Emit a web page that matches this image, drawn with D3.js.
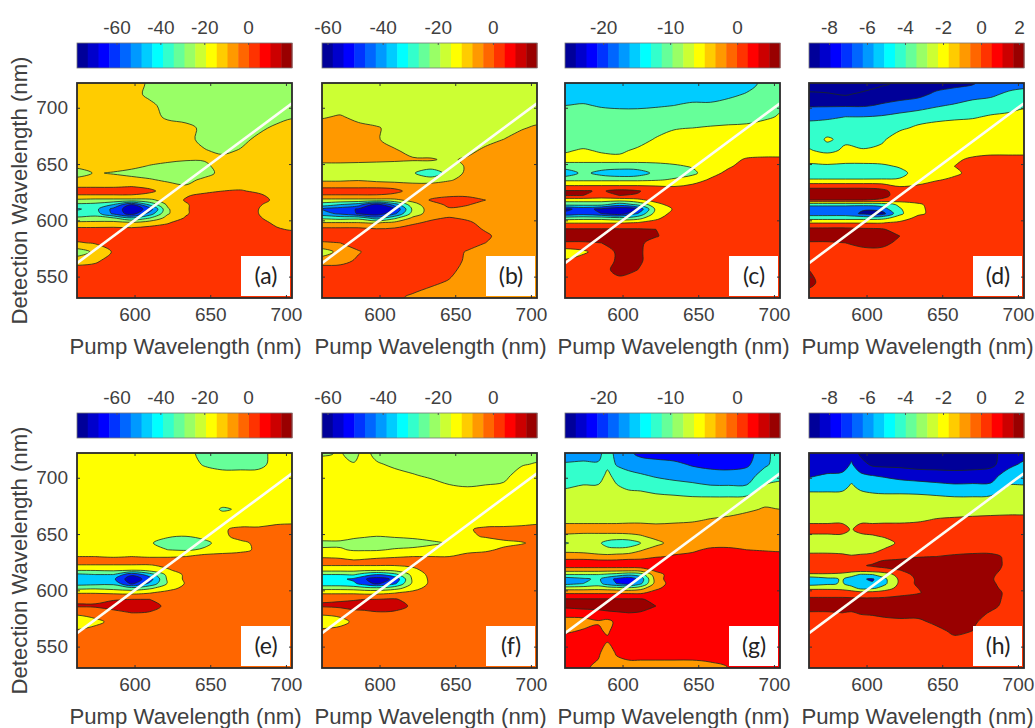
<!DOCTYPE html>
<html>
<head>
<meta charset="utf-8">
<script src="https://cdn.jsdelivr.net/npm/d3@7"></script>
<style>
body{margin:0;background:#fff}
svg{display:block}
text{font-family:'Liberation Sans',Arial,sans-serif;fill:#404040}
</style>
</head>
<body>
<svg id="chart" width="1035" height="728"></svg>
<script>
// grid axes, rows run top to bottom. f, g and h need a finer pump grid round the 590 nm spike
var pumpCoarse = [562,574,586,598,610,622,634,646,658,670,682,694,704]
var pumpF = [562,574,583,590,598,610,622,634,646,658,670,682,694,704]
var pumpFine = [562,574,584,590,596,604,612,622,634,646,658,670,682,694,704]
var detection = [722,712,702,692,682,672,662,654,648,642,636,630,626,622,618,614,610,606,602,598,592,586,580,572,564,556,545,531]

// values are in contour steps: 10 units = one filled band of that panel
var gridA = [
[55,55,55,53,49,45,45,45,45,45,45,45,45],
[55,55,55,53,48,45,45,45,45,45,45,45,45],
[55,55,55,55,52,47,45,45,45,45,45,45,45],
[55,55,55,55,54,48,45,45,45,45,45,45,49],
[55,55,55,55,55,55,54,47,45,45,47,53,55],
[55,55,55,55,55,55,54,46,45,46,53,55,55],
[55,55,55,55,55,55,55,51,47,51,55,55,55],
[55,55,55,55,55,53,51,51,54,55,55,55,55],
[52,53,55,53,49,46,45,47,55,55,55,55,55],
[45,51,49,46,45,45,45,46,53,55,55,55,55],
[53,55,55,54,51,48,47,52,55,55,55,55,55],
[59,59,59,60,58,54,51,55,56,57,55,55,55],
[65,65,65,65,62,56,55,57,60,61,58,55,55],
[59,59,59,59,57,55,59,63,65,65,62,56,55],
[48,47,47,47,48,54,61,65,65,65,63,58,55],
[38,37,30,10,32,52,59,65,65,65,61,56,55],
[29,33,17,3,14,49,59,65,65,65,60,55,55],
[33,35,18,5,24,49,59,65,65,65,60,55,55],
[42,44,41,31,40,54,61,65,65,65,61,56,55],
[52,52,53,51,55,59,65,65,65,65,63,58,56],
[63,63,63,63,64,65,65,65,65,65,65,61,59],
[65,65,65,65,65,65,65,65,65,65,65,65,65],
[59,61,65,65,65,65,65,65,65,65,65,65,65],
[45,52,61,65,65,65,65,65,65,65,65,65,65],
[55,58,65,65,65,65,65,65,65,65,65,65,65],
[65,65,65,65,65,65,65,65,65,65,65,65,65],
[65,65,65,65,65,65,65,65,65,65,65,65,65],
[65,65,65,65,65,65,65,65,65,65,65,65,65]]

var gridB = [
[45,45,45,45,45,45,45,45,45,45,45,45,45],
[45,45,45,45,45,45,45,45,45,45,45,45,45],
[45,45,45,45,45,45,45,45,45,45,45,45,45],
[49,51,47,45,45,45,45,45,45,45,45,45,45],
[55,55,53,51,47,45,45,45,45,45,45,49,52],
[55,55,55,51,46,45,45,45,45,45,50,55,55],
[55,55,55,55,51,47,45,45,46,53,55,55,55],
[55,55,54,53,52,51,51,48,52,55,55,55,55],
[45,45,45,45,45,45,45,46,51,55,55,55,55],
[45,45,45,45,45,41,33,44,52,55,55,55,55],
[48,48,49,47,46,45,45,49,53,55,55,55,55],
[58,58,58,58,57,55,55,55,55,55,55,55,55],
[65,65,65,65,63,56,55,55,55,55,55,55,55],
[59,59,59,59,57,55,57,59,59,59,57,55,55],
[47,47,47,47,48,53,61,63,63,60,55,55,55],
[35,30,25,5,25,46,56,62,61,55,55,55,55],
[20,15,9,2,10,42,55,59,56,55,55,55,55],
[24,18,9,3,18,44,55,55,55,55,55,55,55],
[38,36,37,25,38,52,58,61,58,55,55,55,55],
[50,50,50,49,52,58,62,65,62,56,55,55,55],
[63,63,63,61,62,65,65,65,64,59,55,55,55],
[65,65,65,65,65,65,65,65,65,62,56,55,55],
[59,60,65,65,65,65,65,65,65,60,55,55,55],
[45,53,59,65,65,65,65,65,59,55,55,55,55],
[55,56,62,65,65,65,65,65,58,55,55,55,55],
[65,65,65,65,65,65,65,63,56,55,55,55,55],
[65,65,65,65,65,65,62,59,55,55,55,55,55],
[65,65,65,65,62,58,55,55,55,55,55,55,55]]

var gridC = [
[25,25,25,25,25,25,25,25,25,25,25,33,35],
[25,25,25,25,25,25,25,25,25,27,31,35,35],
[30,31,29,28,28,29,30,32,32,35,35,35,38],
[35,35,35,35,35,35,35,35,35,35,35,38,41],
[35,35,35,35,35,35,39,40,41,42,43,45,45],
[35,35,35,35,35,41,45,45,45,45,45,45,45],
[39,41,39,38,42,45,45,45,45,45,45,45,45],
[43,43,43,43,43,43,45,45,45,47,51,52,52],
[36,36,36,36,36,37,38,41,46,49,53,55,55],
[22,33,26,22,24,33,36,37,47,52,55,55,55],
[38,38,38,38,38,39,41,46,51,55,55,55,55],
[52,52,52,52,52,51,50,52,55,55,55,55,55],
[61,61,59,63,61,55,55,55,55,55,55,55,55],
[60,60,57,60,59,55,55,55,55,55,55,55,55],
[44,44,44,44,47,54,55,55,55,55,55,55,55],
[33,33,33,24,32,46,55,55,55,55,55,55,55],
[8,13,8,3,10,42,51,55,55,55,55,55,55],
[12,15,10,4,20,44,53,55,55,55,55,55,55],
[35,36,36,33,36,48,55,55,55,55,55,55,55],
[49,49,49,49,50,53,55,55,55,55,55,55,55],
[61,61,61,61,61,60,55,55,55,55,55,55,55],
[65,65,65,65,65,61,55,55,55,55,55,55,55],
[59,59,60,65,63,55,55,55,55,55,55,55,55],
[45,48,55,62,62,55,55,55,55,55,55,55,55],
[51,55,55,62,62,55,55,55,55,55,55,55,55],
[55,55,55,65,60,55,55,55,55,55,55,55,55],
[55,55,55,55,55,55,55,55,55,55,55,55,55],
[55,55,55,55,55,55,55,55,55,55,55,55,55]]

var gridD = [
[3,3,3,4,8,12,15,15,17,19,25,25,25],
[12,11,9,12,15,15,17,22,24,25,28,32,35],
[19,19,19,19,21,24,26,29,31,35,35,35,38],
[27,28,30,30,31,33,35,36,38,39,41,43,45],
[35,36,35,35,35,38,42,45,45,45,45,45,45],
[35,41,38,35,38,46,45,45,45,45,45,45,45],
[41,37,42,41,43,45,45,45,45,45,45,45,45],
[44,48,44,44,44,44,45,45,48,52,55,55,55],
[37,37,37,37,38,41,45,46,50,55,55,55,55],
[32,32,32,32,33,37,44,47,48,53,55,55,55],
[41,41,41,41,41,41,44,49,52,55,55,55,55],
[57,57,57,57,56,50,52,55,55,55,55,55,55],
[65,65,65,65,63,55,55,55,55,55,55,55,55],
[65,65,65,65,64,55,55,55,55,55,55,55,55],
[60,60,60,60,58,55,55,55,55,55,55,55,55],
[33,33,33,33,34,42,48,55,55,55,55,55,55],
[23,23,23,21,25,39,48,53,55,55,55,55,55],
[25,25,25,18,15,38,48,53,55,55,55,55,55],
[36,36,36,36,37,44,53,55,55,55,55,55,55],
[49,49,49,49,49,52,55,55,55,55,55,55,55],
[63,63,63,62,61,56,55,55,55,55,55,55,55],
[65,65,65,65,65,60,55,55,55,55,55,55,55],
[59,59,60,65,65,56,55,55,55,55,55,55,55],
[55,55,55,55,55,55,55,55,55,55,55,55,55],
[55,55,55,55,55,55,55,55,55,55,55,55,55],
[60,55,55,55,55,55,55,55,55,55,55,55,55],
[63,55,55,55,55,55,55,55,55,55,55,55,55],
[55,55,55,55,55,55,55,55,55,55,55,55,55]]

var gridE = [
[45,45,45,45,45,45,45,35,35,35,35,45,45],
[45,45,45,45,45,45,45,39,35,35,36,45,45],
[45,45,45,45,45,45,45,45,45,45,45,45,45],
[45,45,45,45,45,45,45,45,45,45,45,45,45],
[45,45,45,45,45,45,45,45,45,45,45,45,45],
[45,45,45,45,45,45,45,45,39,41,45,45,45],
[45,45,45,45,45,45,45,45,45,45,45,46,47],
[45,45,45,45,45,45,45,45,49,52,52,55,55],
[45,45,45,45,45,41,40,42,48,53,55,55,55],
[45,45,45,45,41,36,35,38,43,48,52,54,55],
[45,45,45,45,45,40,39,41,44,47,52,55,55],
[50,50,49,50,49,49,50,54,55,55,55,55,55],
[55,55,55,55,55,55,55,55,55,55,55,55,55],
[49,49,49,49,49,52,55,55,55,55,55,55,55],
[41,41,42,41,44,49,54,55,55,55,55,55,55],
[28,30,30,12,25,43,52,55,55,55,55,55,55],
[24,24,22,3,15,42,52,55,55,55,55,55,55],
[26,27,28,8,22,41,51,55,55,55,55,55,55],
[37,38,36,33,38,46,53,55,55,55,55,55,55],
[49,49,48,47,49,53,55,55,55,55,55,55,55],
[58,58,59,60,60,56,55,55,55,55,55,55,55],
[61,61,65,65,65,57,55,55,55,55,55,55,55],
[52,55,56,60,59,55,55,55,55,55,55,55,55],
[44,47,53,55,55,55,55,55,55,55,55,55,55],
[51,54,55,55,55,55,55,55,55,55,55,55,55],
[55,55,55,55,55,55,55,55,55,55,55,55,55],
[55,55,55,55,55,55,55,55,55,55,55,55,55],
[55,55,55,55,55,55,55,55,55,55,55,55,55]]

var gridF = [
[38,41,35,45,35,35,35,35,35,35,35,35,35,35],
[45,44,41,45,42,37,35,35,35,35,35,35,39,41],
[45,45,45,45,45,45,41,38,36,35,35,37,45,45],
[45,45,45,45,45,45,45,45,41,40,41,42,45,45],
[45,45,45,45,45,45,45,45,45,45,45,45,45,45],
[45,45,45,45,45,45,45,45,45,45,45,45,45,45],
[45,45,45,45,45,45,45,45,45,45,45,46,46,47],
[45,45,45,45,45,45,45,45,45,49,52,52,53,54],
[44,44,42,41,40,41,42,44,45,48,51,54,55,55],
[38,38,36,35,35,35,36,38,41,45,45,47,49,53],
[41,41,39,39,39,41,42,44,45,47,48,52,55,55],
[49,48,47,47,48,49,50,50,50,53,55,55,55,55],
[53,53,51,52,53,54,55,55,55,55,55,55,55,55],
[50,50,50,50,50,50,52,55,55,55,55,55,55,55],
[43,43,43,42,42,43,47,55,55,55,55,55,55,55],
[30,30,31,25,20,27,43,53,55,55,55,55,55,55],
[22,22,18,11,5,12,42,52,55,55,55,55,55,55],
[24,24,22,15,8,18,42,52,55,55,55,55,55,55],
[36,36,35,33,32,36,45,55,55,55,55,55,55,55],
[48,48,48,47,47,49,53,55,55,55,55,55,55,55],
[59,59,59,60,60,61,56,55,55,55,55,55,55,55],
[61,62,65,65,65,65,58,55,55,55,55,55,55,55],
[52,54,56,57,59,58,55,55,55,55,55,55,55,55],
[44,46,52,54,55,55,55,55,55,55,55,55,55,55],
[52,54,55,55,55,55,55,55,55,55,55,55,55,55],
[55,55,55,55,55,55,55,55,55,55,55,55,55,55],
[55,55,55,55,55,55,55,55,55,55,55,55,55,55],
[55,55,55,55,55,55,55,55,55,55,55,55,55,55]]

var gridG = [
[15,15,17,25,17,12,7,5,5,5,5,5,5,17,25],
[21,22,21,28,19,16,15,14,12,9,7,7,8,18,25],
[25,25,26,32,27,23,21,19,17,15,14,13,15,25,25],
[29,31,31,35,31,28,27,25,24,23,21,21,21,31,35],
[35,35,35,36,35,35,35,33,32,31,31,31,32,36,37],
[35,35,35,35,35,35,35,35,35,35,35,35,38,41,40],
[38,38,38,38,38,38,38,37,38,39,41,43,45,45,45],
[44,44,44,44,44,45,45,45,45,45,45,45,45,45,45],
[38,37,37,37,37,37,39,43,45,45,45,45,45,45,45],
[29,34,32,26,23,24,30,37,44,45,45,48,45,45,45],
[37,36,33,33,33,34,39,44,47,48,52,51,50,49,48],
[45,45,44,43,44,45,46,49,51,53,55,55,55,55,55],
[53,53,52,52,52,53,53,55,55,55,55,55,55,55,55],
[55,55,55,55,55,55,55,55,55,55,55,55,55,55,55],
[44,44,44,44,44,44,45,52,55,55,55,55,55,55,55],
[30,30,30,28,26,22,25,46,55,55,55,55,55,55,55],
[14,18,22,14,8,3,14,44,58,55,55,55,55,55,55],
[16,20,24,15,10,6,18,44,55,55,55,55,55,55,55],
[35,35,36,35,34,32,36,48,55,55,55,55,55,55,55],
[48,48,48,48,48,48,48,53,55,55,55,55,55,55,55],
[61,61,61,61,61,61,61,57,55,55,55,55,55,55,55],
[62,64,65,65,65,65,65,60,55,55,55,55,55,55,55],
[55,55,56,58,59,60,59,55,55,55,55,55,55,55,55],
[45,46,49,47,52,55,55,55,55,55,55,55,55,55,55],
[48,51,52,48,55,55,55,55,55,55,55,55,55,55,55],
[55,55,55,52,55,55,55,55,55,55,55,55,55,55,55],
[55,55,53,42,52,55,55,55,55,55,55,55,55,55,55],
[55,53,46,43,43,45,45,45,45,45,47,50,55,55,55]]

var gridH = [
[15,15,15,17,8,5,5,5,5,5,5,5,7,15,15],
[15,15,15,21,14,8,7,7,5,5,5,5,7,17,22],
[19,21,22,25,22,20,19,17,16,15,14,15,16,25,25],
[25,25,26,32,27,25,25,25,24,23,22,22,22,31,31],
[36,36,36,37,36,34,33,33,33,32,31,31,32,35,35],
[35,35,35,35,35,35,35,35,35,35,35,35,35,35,35],
[38,38,38,38,38,38,38,38,39,41,42,43,44,45,45],
[44,44,44,39,44,44,45,45,45,45,45,45,45,45,45],
[38,38,38,33,37,39,41,44,45,45,45,45,45,45,45],
[35,35,35,35,35,35,36,42,45,45,45,45,45,45,45],
[38,38,37,36,36,37,41,45,45,45,45,45,45,45,45],
[42,42,42,41,42,43,45,47,49,50,52,54,54,47,45],
[45,45,45,45,46,48,51,52,55,55,55,55,55,47,45],
[45,45,45,45,49,51,53,55,55,55,55,55,55,47,45],
[44,44,44,44,45,46,47,50,55,55,55,55,54,46,45],
[39,39,38,35,29,30,35,44,54,55,55,55,52,45,45],
[22,27,31,24,21,19,28,42,52,55,55,55,51,45,45],
[25,28,31,25,21,21,28,42,52,55,55,55,52,45,45],
[38,38,37,34,27,28,34,44,50,55,55,55,53,46,45],
[45,45,45,44,43,43,45,47,49,55,55,55,55,47,45],
[52,52,52,52,52,52,52,53,55,55,55,55,54,47,45],
[55,55,55,55,55,55,55,55,55,55,55,55,53,46,45],
[49,49,50,49,51,52,54,55,55,55,55,55,49,45,45],
[45,45,45,45,45,45,46,47,47,53,55,52,45,45,45],
[45,45,45,45,45,45,45,45,45,46,53,50,45,45,45],
[45,45,45,45,45,45,45,45,45,45,47,45,45,45,45],
[45,45,45,45,45,45,45,45,45,45,45,45,45,45,45],
[45,45,45,45,45,45,45,45,45,45,45,45,45,45,45]]

// colorbar ranges and tick labels
var rangeAE = [-78, 20], ticksAE = [-60, -40, -20, 0]
var rangeBF = [-62, 16], ticksBF = [-60, -40, -20, 0]
var rangeCG = [-25.7, 6.4], ticksCG = [-20, -10, 0]
var rangeDH = [-9.05, 2.26], ticksDH = [-8, -6, -4, -2, 0, 2]

var pumpTicks = [600, 650, 700], detectionTicks = [550, 600, 650, 700]
var diagonal = [562, 704]

// MATLAB jet(20)
var jet = ['#000099','#0000cc','#0000ff','#0033ff','#0066ff','#0099ff','#00ccff','#00ffff','#33ffcc','#66ff99',
  '#99ff66','#ccff33','#ffff00','#ffcc00','#ff9900','#ff6600','#ff3300','#ff0000','#cc0000','#990000']

var panels = [
  {name: '(a)', grid: gridA, pump: pumpCoarse, range: rangeAE, ticks: ticksAE, bands: [2,4,6,9,11,14,17]},
  {name: '(b)', grid: gridB, pump: pumpCoarse, range: rangeBF, ticks: ticksBF, bands: [2,4,6,9,12,15,17]},
  {name: '(c)', grid: gridC, pump: pumpCoarse, range: rangeCG, ticks: ticksCG, bands: [2,4,7,10,13,17,20]},
  {name: '(d)', grid: gridD, pump: pumpCoarse, range: rangeDH, ticks: ticksDH, bands: [1,1,5,9,13,17,20]},
  {name: '(e)', grid: gridE, pump: pumpCoarse, range: rangeAE, ticks: ticksAE, bands: [2,4,7,10,13,16,19]},
  {name: '(f)', grid: gridF, pump: pumpF, range: rangeBF, ticks: ticksBF, bands: [2,4,8,11,13,16,19]},
  {name: '(g)', grid: gridG, pump: pumpFine, range: rangeCG, ticks: ticksCG, bands: [3,6,9,12,15,18,20]},
  {name: '(h)', grid: gridH, pump: pumpFine, range: rangeDH, ticks: ticksDH, bands: [1,2,7,12,17,20]},
]

var lefts = [77, 322, 565, 809], tops = [83, 453], size = 215
var svg = d3.select('#chart')

panels.forEach(function(p, i){
  var col = i % 4, row = i < 4 ? 0 : 1
  if (p.grid.length != detection.length || p.grid.some(r => r.length != p.pump.length)) throw new Error('bad grid ' + p.name)

  var g = svg.append('g').attr('transform', `translate(${lefts[col]},${tops[row]})`)
  var x = d3.scaleLinear().domain(diagonal).range([0, size])
  var y = d3.scaleLinear().domain([531, 722]).range([size, 0])

  // colorbar
  var cb = g.append('g').attr('transform', 'translate(0,-40)')
  var cx = d3.scaleLinear().domain(p.range).range([0, size])
  var bandX = d3.scaleBand().domain(d3.range(jet.length)).range([0, size])
  cb.selectAll('rect').data(jet).enter().append('rect')
    .attr('x', (d, j) => bandX(j)).attr('width', bandX.bandwidth() + .5).attr('height', 25).attr('fill', d => d)
  cb.append('rect').attr('width', size).attr('height', 25).attr('fill', 'none').attr('stroke', '#777').attr('stroke-width', .8)
  var cbAxis = cb.append('g').call(d3.axisTop(cx).tickValues(p.ticks).tickSize(-2).tickPadding(9).tickFormat(d => d))
  cbAxis.select('.domain').remove()
  cbAxis.selectAll('line').attr('stroke', '#555')
  cbAxis.selectAll('text').style('font-size', '19px').attr('fill', null)

  // filled contours, pad the grid one cell so rings close outside the clip
  var rows = [p.grid[0], ...p.grid, p.grid[p.grid.length - 1]].map(r => [r[0], ...r, r[r.length - 1]])
  var w = rows[0].length, h = rows.length
  var nx = p.pump.length
  var px = d3.scaleLinear().domain(d3.range(w)).range([p.pump[0] - 20, ...p.pump, p.pump[nx - 1] + 20])
  var py = d3.scaleLinear().domain(d3.range(h)).range([detection[0] + 20, ...detection, detection[detection.length - 1] - 20])
  var levels = p.bands.map((b, j) => j * 10).slice(1)
  var contours = d3.contours().size([w, h]).thresholds(levels)(rows.flat())
  var ringLine = d3.line().curve(d3.curveCatmullRomClosed.alpha(.5))
    .x(d => x(px(d[0] - .5))).y(d => y(py(d[1] - .5)))

  var clipId = 'clip' + i
  g.append('clipPath').attr('id', clipId).append('rect').attr('width', size).attr('height', size)
  var plot = g.append('g').attr('clip-path', `url(#${clipId})`)
  plot.append('rect').attr('width', size).attr('height', size).attr('fill', jet[p.bands[0] - 1])
  plot.selectAll('path.band').data(contours).enter().append('path').attr('class', 'band')
    .attr('d', c => c.coordinates.map(poly => poly.map(ring => ringLine(ring.slice(0, -1))).join('')).join(''))
    .attr('fill', (c, j) => jet[p.bands[j + 1] - 1])
    .attr('stroke', '#1d2a1d').attr('stroke-width', .8)

  // pump = detection line
  plot.append('line')
    .attr('x1', x(diagonal[0])).attr('y1', y(diagonal[0])).attr('x2', x(diagonal[1])).attr('y2', y(diagonal[1]))
    .attr('stroke', '#fdfdf5').attr('stroke-width', 2.6)

  // label box
  g.append('rect').attr('x', size - 51).attr('y', size - 42).attr('width', 49).attr('height', 40).attr('fill', '#fff')
  g.append('text').text(p.name).attr('x', size - 26).attr('y', size - 14).attr('text-anchor', 'middle')
    .style('font-family', 'Lato').style('font-size', '23px').style('fill', '#222')

  // axes and frame
  var xAxis = g.append('g').attr('transform', `translate(0,${size})`)
    .call(d3.axisBottom(x).tickValues(pumpTicks).tickSize(-3).tickPadding(10))
  var xTop = g.append('g').call(d3.axisTop(x).tickValues(pumpTicks).tickSize(-3).tickFormat(''))
  var yRight = g.append('g').attr('transform', `translate(${size},0)`)
    .call(d3.axisRight(y).tickValues(detectionTicks).tickSize(-3).tickFormat(''))
  var yAxis = g.append('g').call(d3.axisLeft(y).tickValues(detectionTicks).tickSize(-3).tickPadding(9)
    .tickFormat(d => col ? '' : d))
  ;[xAxis, xTop, yRight, yAxis].forEach(a => {
    a.select('.domain').remove()
    a.selectAll('line').attr('stroke', '#333')
    a.selectAll('text').style('font-size', '19px').attr('fill', null)
  })
  g.append('rect').attr('width', size).attr('height', size).attr('fill', 'none').attr('stroke', '#2a2a2a').attr('stroke-width', 1.8)

  g.append('text').text('Pump Wavelength (nm)').attr('x', size / 2 + 1).attr('y', size + 56)
    .attr('text-anchor', 'middle').style('font-size', '22.2px')
  if (!col) g.append('text').text('Detection Wavelength (nm)')
    .attr('transform', `translate(-50,${size / 2 - 0}) rotate(-90)`)
    .attr('text-anchor', 'middle').style('font-size', '22.2px')
})
</script>
</body>
</html>
